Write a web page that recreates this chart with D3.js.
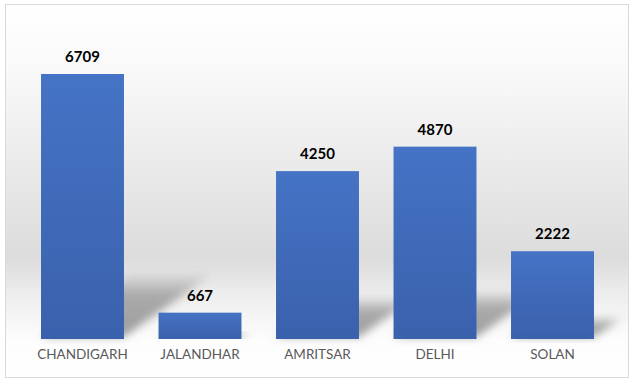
<!DOCTYPE html>
<html>
<head>
  <meta charset="utf-8">
  <title>Cities</title>
  <style>
    body { margin: 0; background: #fff; }
    svg  { font-family: "Lato", "Carlito", sans-serif; }
  </style>
</head>
<body>
  <script src="https://d3js.org/d3.v7.min.js"></script>
  <div id="scene"></div>
  <script>
    // data
    var cities = ["CHANDIGARH", "JALANDHAR", "AMRITSAR", "DELHI", "SOLAN"];
    var counts = [6709, 667, 4250, 4870, 2222];

    var W = 635, H = 385;
    var baseY = 339, maxY = 74;

    var svg = d3.select("#scene").append("svg")
      .attr("width", W).attr("height", H);

    var defs = svg.append("defs");

    // chart area background: white -> grey band -> white
    var bg = defs.append("linearGradient").attr("id", "bg")
      .attr("x1", 0).attr("y1", 0).attr("x2", 0).attr("y2", 1);
    bg.append("stop").attr("offset", "0%").attr("stop-color", "#ffffff");
    bg.append("stop").attr("offset", "20%").attr("stop-color", "#f8f8f8");
    bg.append("stop").attr("offset", "68%").attr("stop-color", "#dcdcdc");
    bg.append("stop").attr("offset", "77%").attr("stop-color", "#ececec");
    bg.append("stop").attr("offset", "90%").attr("stop-color", "#fdfdfd");
    bg.append("stop").attr("offset", "100%").attr("stop-color", "#ffffff");

    var barGrad = defs.append("linearGradient").attr("id", "barGrad")
      .attr("x1", 0).attr("y1", 0).attr("x2", 0).attr("y2", 1);
    barGrad.append("stop").attr("offset", "0%").attr("stop-color", "#4573c5");
    barGrad.append("stop").attr("offset", "100%").attr("stop-color", "#3a61ac");

    var shGrad = defs.append("linearGradient").attr("id", "shGrad")
      .attr("x1", 0).attr("y1", 1).attr("x2", 0).attr("y2", 0);
    shGrad.append("stop").attr("offset", "0%").attr("stop-color", "#8c8c8c").attr("stop-opacity", 0.85);
    shGrad.append("stop").attr("offset", "65%").attr("stop-color", "#8c8c8c").attr("stop-opacity", 0.7);
    shGrad.append("stop").attr("offset", "100%").attr("stop-color", "#8c8c8c").attr("stop-opacity", 0.05);

    var blur = defs.append("filter").attr("id", "blur")
      .attr("x", "-30%").attr("y", "-30%").attr("width", "160%").attr("height", "160%");
    blur.append("feGaussianBlur").attr("stdDeviation", 4);

    svg.append("rect")
      .attr("x", 5.5).attr("y", 4.5).attr("width", 623).attr("height", 373)
      .attr("fill", "url(#bg)").attr("stroke", "#d9d9d9").attr("stroke-width", 1);

    var x = d3.scaleBand().domain(cities).range([6, 629])
      .paddingInner(0.294).paddingOuter(0.298);
    var y = d3.scaleLinear().domain([0, 6709]).range([baseY, maxY]);

    // floor shadows, cast up and to the right of each bar
    svg.append("g").selectAll("path").data(counts).join("path")
      .attr("d", function(d, i) {
        var x0 = x(cities[i]), x1 = x0 + x.bandwidth();
        var h = baseY - y(d);
        var dx = h * 0.34, dy = h * 0.25;
        return "M" + x0 + "," + (baseY - 2) + "L" + x1 + "," + (baseY - 2) +
          "L" + (x1 + dx) + "," + (baseY - dy) + "L" + (x0 + dx) + "," + (baseY - dy) + "Z";
      })
      .attr("fill", "url(#shGrad)")
      .attr("filter", "url(#blur)");

    svg.append("g").selectAll("rect").data(counts).join("rect")
      .attr("x", function(d, i) { return x(cities[i]); })
      .attr("y", function(d) { return y(d); })
      .attr("width", x.bandwidth())
      .attr("height", function(d) { return baseY - y(d); })
      .attr("fill", "url(#barGrad)");

    svg.append("g").selectAll("text").data(counts).join("text")
      .attr("x", function(d, i) { return x(cities[i]) + x.bandwidth() / 2; })
      .attr("y", function(d) { return y(d) - 12; })
      .attr("text-anchor", "middle")
      .attr("font-size", 15).attr("font-weight", "bold").attr("fill", "#000")
      .text(function(d) { return d; });

    var xAxis = svg.append("g").attr("transform", "translate(0," + baseY + ")")
      .call(d3.axisBottom(x).tickSize(0).tickPadding(10));
    xAxis.select(".domain").remove();
    xAxis.selectAll("text")
      .attr("font-family", "Lato, Carlito, sans-serif")
      .attr("font-size", 13.5).attr("fill", "#595959");
  </script>
</body>
</html>
